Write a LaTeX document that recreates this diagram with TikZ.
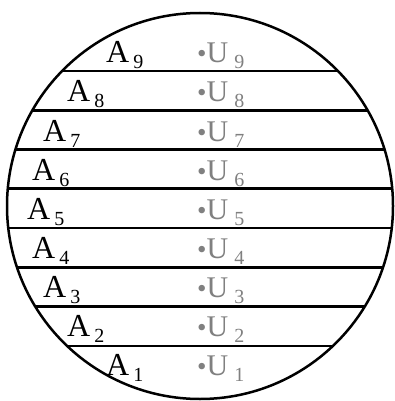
\documentclass[tikz,border=0pt]{standalone}
\usepackage{fontspec}
\setmainfont{Liberation Serif}
\definecolor{ugray}{HTML}{808080}
\begin{document}
\begin{tikzpicture}[x=1pt,y=-1pt,
  chord/.style={line width=2.7pt},
  labA/.style={anchor=base west,inner sep=0pt,font=\fontsize{32}{32}\selectfont},
  labU/.style={anchor=base west,inner sep=0pt,text=ugray,font=\fontsize{30}{30}\selectfont}]
  \useasboundingbox (0,0) rectangle (395,401);
  \node[circle,draw,line width=2.5pt,minimum size=386pt,inner sep=0pt] (disc) at (200,206) {};
  % strips
  \begin{scope}
    \clip (disc.center) circle[radius=193];
    \foreach \k in {0,...,7}
      \draw[chord] (0,{346-39.3*\k}) -- (395,{346-39.3*\k});
  \end{scope}
  % labels
  \foreach \i/\ax in {1/106,2/67,3/43,4/32,5/27,6/32,7/43,8/67,9/106} {
    \node[labA] (a\i) at (\ax,{375-39*(\i-1)}) {A\hspace{4pt}\raisebox{-6pt}{\fontsize{20}{20}\selectfont\i}};
    \node[labU] (u\i) at (197,{375-39*(\i-1)}) {\raisebox{0pt}{\fontsize{27}{27}\selectfont •}U\hspace{6pt}\raisebox{-6pt}{\fontsize{20}{20}\selectfont\i}};
  }
\end{tikzpicture}
\end{document}
